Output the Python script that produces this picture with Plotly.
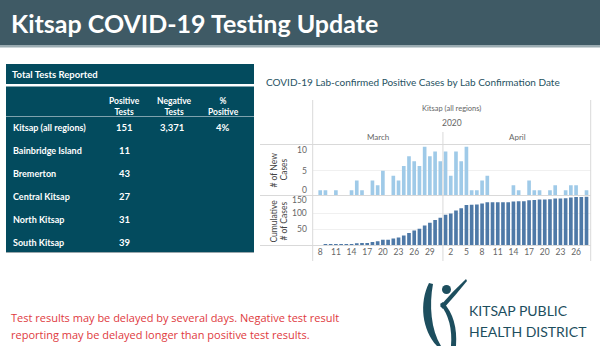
import plotly.graph_objects as go
import numpy as np
import pandas as pd

# ---------------- data ----------------
title_text = "Kitsap COVID-19 Testing Update"
table_title = "Total Tests Reported"
col_headers = ["Positive<br>Tests", "Negative<br>Tests", "%<br>Positive"]
regions = ["Kitsap (all regions)", "Bainbridge Island", "Bremerton",
           "Central Kitsap", "North Kitsap", "South Kitsap"]
positive_tests = ["151", "11", "43", "27", "31", "39"]
negative_tests = ["3,371", "", "", "", "", ""]
pct_positive = ["4%", "", "", "", "", ""]

chart_title = "COVID-19 Lab-confirmed Positive Cases by Lab Confirmation Date"
dates = pd.date_range("2020-03-08", "2020-04-28", freq="D")
new_cases = [1, 1, 0, 1, 0, 0, 1, 3, 1, 0, 3, 2, 5, 0, 4, 3, 6, 8, 7, 6,
             10, 8, 9, 7, 9, 4, 9, 7, 10, 1, 1, 3, 4, 0, 0, 0, 0, 2, 1, 0,
             3, 1, 1, 0, 1, 2, 0, 1, 2, 2, 0, 1]
cumulative = np.cumsum(new_cases)

tick_dates = ["2020-03-08", "2020-03-11", "2020-03-14", "2020-03-17", "2020-03-20",
              "2020-03-23", "2020-03-26", "2020-03-29", "2020-04-02", "2020-04-05",
              "2020-04-08", "2020-04-11", "2020-04-14", "2020-04-17", "2020-04-20",
              "2020-04-23", "2020-04-26"]
tick_labels = ["8", "11", "14", "17", "20", "23", "26", "29", "2", "5", "8",
               "11", "14", "17", "20", "23", "26"]
new_ticks = [0, 5, 10]
cum_ticks = [50, 100, 150]

note_lines = ["Test results may be delayed by several days. Negative test result",
              "reporting may be delayed longer than positive test results."]
org_lines = ["KITSAP PUBLIC", "HEALTH DISTRICT"]

# ---------------- helpers ----------------
W, H = 600, 350
def px(x): return x / W
def py(y): return 1 - y / H

FONT = "Lato"
TEAL = "#034b5e"
GRID = "#d9d9d9"

shapes = []
annotations = []

def rect(x0, y0, x1, y1, fill, line=None):
    shapes.append(dict(type="rect", xref="paper", yref="paper",
                       x0=px(x0), x1=px(x1), y0=py(y1), y1=py(y0),
                       fillcolor=fill, line=dict(width=0) if line is None else line,
                       layer="below"))

def hline(x0, x1, y, color=GRID, width=1):
    shapes.append(dict(type="line", xref="paper", yref="paper",
                       x0=px(x0), x1=px(x1), y0=py(y), y1=py(y),
                       line=dict(color=color, width=width), layer="above"))

def vline(x, y0, y1, color=GRID, width=1):
    shapes.append(dict(type="line", xref="paper", yref="paper",
                       x0=px(x), x1=px(x), y0=py(y0), y1=py(y1),
                       line=dict(color=color, width=width), layer="above"))

def text(x, y, s, size, color, xanchor="left", bold=False, family=FONT, angle=0):
    annotations.append(dict(xref="paper", yref="paper", x=px(x), y=py(y),
                            text=("<b>%s</b>" % s) if bold else s,
                            showarrow=False, xanchor=xanchor, yanchor="middle",
                            textangle=angle,
                            font=dict(size=size, color=color, family=family)))

def path(cmds, fill):
    out = []
    for c in cmds:
        if isinstance(c, str):
            out.append(c)
        else:
            out.append("%.5f,%.5f" % (px(c[0]), py(c[1])))
    shapes.append(dict(type="path", xref="paper", yref="paper", path=" ".join(out),
                       fillcolor=fill, line=dict(width=0), layer="above"))

# ---------------- header ----------------
rect(0, 0, 600, 45, "#3f5a65")
rect(0, 45, 600, 47.5, "#9aabb1")
text(9, 23, title_text, 25, "white", bold=True)

# ---------------- table ----------------
rect(6, 64, 254, 84, TEAL)
rect(6, 86.5, 254, 252.5, TEAL)
hline(6, 254, 252.5, color="#9aa7ac", width=1)
hline(6, 254, 116.5, color="#7fa2ad", width=1)
text(10, 74, table_title, 9.5, "white", bold=True)
col_x = [124.5, 174.5, 223]
for cx, h in zip(col_x, col_headers):
    annotations.append(dict(xref="paper", yref="paper", x=px(cx), y=py(106),
                            text="<b>%s</b>" % h, showarrow=False, xanchor="center",
                            yanchor="middle", align="center",
                            font=dict(size=8.5, color="white", family=FONT)))
row_y = [127.7, 150.7, 173.7, 196.3, 219.3, 242.3]
for ry, reg, p, n, pc in zip(row_y, regions, positive_tests, negative_tests, pct_positive):
    text(11, ry, reg, 9, "white", bold=True)
    text(col_x[0], ry, p, 9.5, "white", xanchor="center", bold=True)
    if n:
        text(col_x[1] - 3, ry, n, 9.5, "white", xanchor="center", bold=True)
    if pc:
        text(col_x[2], ry, pc, 9.5, "white", xanchor="center", bold=True)

# ---------------- chart frame ----------------
PL, PR = 312.7, 590.7
text(264, 81.5, chart_title, 10, "#1f5262")
text((PL + PR) / 2, 109, "Kitsap (all regions)", 7.5, "#666666", xanchor="center")
text((PL + PR) / 2, 123, "2020", 8.5, "#666666", xanchor="center")
text(378, 137, "March", 8, "#666666", xanchor="center")
text(517, 137, "April", 8, "#666666", xanchor="center")
vline(PL, 100, 261)
vline(PR, 100, 261)
hline(260, PR, 144.5)
hline(260, PR, 195.5)
hline(260, PR, 245.5)
# month divider (between Mar 31 and Apr 1)
shapes.append(dict(type="line", xref="x", yref="paper",
                   x0="2020-03-31 12:00", x1="2020-03-31 12:00",
                   y0=py(261), y1=py(132),
                   line=dict(color=GRID, width=1), layer="above"))

# axis titles
text(273.5, 170, "# of New", 8.5, "#444444", xanchor="center", angle=-90)
text(283.5, 170, "Cases", 8.5, "#444444", xanchor="center", angle=-90)
text(273.5, 221, "Cumulative", 8.5, "#444444", xanchor="center", angle=-90)
text(283.5, 221, "# of Cases", 8.5, "#444444", xanchor="center", angle=-90)

# y tick labels (drawn on the axes' own data scale)
shift_new = {0: 5, 5: 0, 10: -3}
for v in new_ticks:
    annotations.append(dict(xref="paper", yref="y2", x=px(309), y=v, text=str(v),
                            showarrow=False, xanchor="right", yanchor="middle",
                            yshift=shift_new[v],
                            font=dict(size=8.5, color="#666666", family=FONT)))
shift_cum = {50: 0, 100: 0, 150: -3}
for v in cum_ticks:
    annotations.append(dict(xref="paper", yref="y", x=px(309), y=v, text=str(v),
                            showarrow=False, xanchor="right", yanchor="middle",
                            yshift=shift_cum[v],
                            font=dict(size=8.5, color="#666666", family=FONT)))

# ---------------- footer ----------------
text(9, 317, note_lines[0], 11, "#e03a3e", family="Open Sans")
text(9, 334.5, note_lines[1], 11, "#e03a3e", family="Open Sans")
text(467, 310, org_lines[0], 14, "#1d4e5e")
text(467, 331, org_lines[1], 14, "#1d4e5e")

LOGO = "#1d4e5e"
path(["M", (429, 283), "C", (419, 303), (422, 330), (437, 346),
      "L", (441, 346), "C", (431, 330), (429, 305), (433, 284), "Z"], LOGO)
shapes.append(dict(type="circle", xref="paper", yref="paper",
                   x0=px(442), x1=px(451), y0=py(294), y1=py(285),
                   fillcolor=LOGO, line=dict(width=0)))
path(["M", (440, 306), "Q", (452, 292), (466, 279),
      "L", (467, 281), "Q", (455, 296), (443, 309), "Z"], LOGO)
path(["M", (440, 304), "Q", (453, 320), (451, 346),
      "L", (456, 346), "Q", (458, 318), (443, 302), "Z"], LOGO)

# ---------------- traces ----------------
bar_w = 0.7 * 86400000
fig = go.Figure()
fig.add_trace(go.Bar(x=dates, y=new_cases, width=bar_w, marker_color="#9fcae8",
                     marker_line_width=0, xaxis="x", yaxis="y2", hoverinfo="x+y"))
fig.add_trace(go.Bar(x=dates, y=cumulative, width=bar_w, marker_color="#4e79a7",
                     marker_line_width=0, xaxis="x", yaxis="y", hoverinfo="x+y"))

fig.update_layout(
    width=W, height=H, margin=dict(l=0, r=0, t=0, b=0),
    paper_bgcolor="white", plot_bgcolor="rgba(0,0,0,0)",
    showlegend=False, barmode="overlay",
    font=dict(family=FONT),
    xaxis=dict(domain=[px(PL), px(PR)], anchor="y", type="date",
               range=["2020-03-06 13:26", "2020-04-28 19:12"],
               tickvals=tick_dates, ticktext=tick_labels, ticks="",
               showgrid=False, zeroline=False, showline=False,
               tickfont=dict(size=8.5, color="#666666", family=FONT)),
    yaxis=dict(domain=[py(245.5), py(196)], anchor="x", range=[0, 153],
               tickvals=cum_ticks[:2], showticklabels=False, ticks="",
               showgrid=True, gridcolor="#f0f0f0", zeroline=False, showline=False),
    yaxis2=dict(domain=[py(195), py(145)], anchor="x", range=[0, 10.35],
                tickvals=[5], showticklabels=False, ticks="",
                showgrid=True, gridcolor="#f0f0f0", zeroline=False, showline=False),
    shapes=shapes, annotations=annotations,
)

fig.write_html("out.html")
